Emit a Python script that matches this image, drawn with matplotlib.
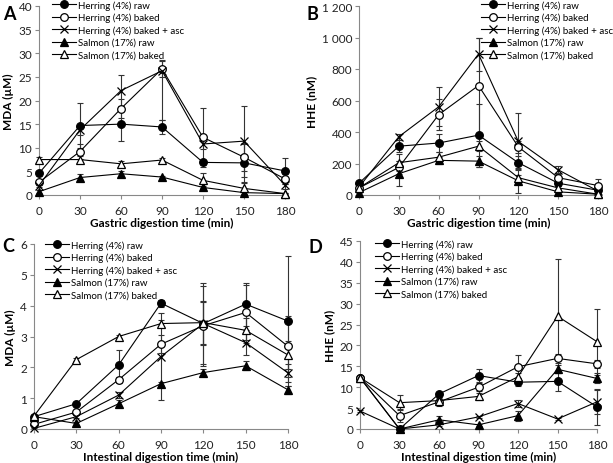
import matplotlib
matplotlib.use("Agg")
import matplotlib.pyplot as plt
import numpy as np
from matplotlib.ticker import FuncFormatter

plt.rcParams['font.family'] = ['Lato', 'DejaVu Sans']

times = [0, 30, 60, 90, 120, 150, 180]
labels = ["Herring (4%) raw", "Herring (4%) baked", "Herring (4%) baked + asc",
          "Salmon (17%) raw", "Salmon (17%) baked"]

# Panel A: MDA gastric (uM)
a_vals = [
    [4.6, 14.7, 15.0, 14.4, 6.9, 6.8, 5.1],
    [2.7, 9.2, 18.3, 26.7, 12.2, 8.0, 3.4],
    [2.0, 13.8, 22.1, 26.3, 10.8, 11.4, 2.1],
    [0.7, 3.7, 4.5, 3.8, 1.6, 0.5, 0.3],
    [7.5, 7.5, 6.6, 7.4, 3.1, 1.4, 0.3],
]
a_err_low = [
    [0.5, 4.8, 3.5, 1.4, 0.5, 4.0, 2.7],
    [0.5, 1.5, 2.0, 1.8, 6.3, 3.0, 1.0],
    [0.4, 1.0, 3.2, 10.5, 1.0, 7.5, 0.8],
    [0.3, 0.7, 0.5, 0.3, 0.4, 0.2, 0.1],
    [0.5, 0.8, 0.5, 0.5, 1.6, 1.1, 0.2],
]
a_err_up = [
    [0.5, 4.8, 3.5, 1.4, 0.5, 4.0, 2.7],
    [0.5, 1.5, 2.0, 1.8, 6.3, 3.0, 1.0],
    [0.4, 1.0, 3.2, 2.0, 1.0, 7.5, 0.8],
    [0.3, 0.7, 0.5, 0.3, 0.4, 0.2, 0.1],
    [0.5, 0.8, 0.5, 0.5, 1.6, 1.1, 0.2],
]
# Panel B: HHE gastric (nM)
b_vals = [
    [75, 310, 330, 380, 205, 75, 30],
    [45, 175, 510, 695, 305, 110, 60],
    [50, 370, 560, 895, 340, 160, 25],
    [15, 135, 220, 215, 90, 20, 5],
    [45, 205, 240, 310, 110, 45, 5],
]
b_err = [
    [10, 40, 60, 200, 40, 20, 10],
    [10, 40, 100, 300, 40, 30, 40],
    [10, 20, 125, 105, 180, 25, 10],
    [5, 80, 20, 35, 80, 10, 3],
    [10, 55, 30, 30, 20, 10, 3],
]
# Panel C: MDA intestinal (uM)
c_vals = [
    [0.40, 0.82, 2.08, 4.08, 3.42, 4.05, 3.50],
    [0.15, 0.55, 1.60, 2.75, 3.35, 3.78, 2.68],
    [0.02, 0.40, 1.10, 2.35, 3.42, 2.80, 1.82],
    [0.40, 0.18, 0.82, 1.47, 1.83, 2.05, 1.27],
    [0.42, 2.25, 3.00, 3.42, 3.45, 3.20, 2.40],
]
c_err = [
    [0.05, 0.05, 0.47, 0.12, 0.70, 0.70, 2.10],
    [0.05, 0.05, 0.10, 0.30, 1.30, 0.90, 1.00],
    [0.02, 0.05, 0.10, 1.40, 1.30, 0.40, 0.30],
    [0.05, 0.05, 0.12, 0.05, 0.10, 0.15, 0.12],
    [0.05, 0.05, 0.05, 0.12, 0.70, 0.40, 0.45],
]
# Panel D: HHE intestinal (nM)
d_vals = [
    [12.3, 0.0, 8.4, 12.8, 11.2, 11.4, 5.3],
    [12.3, 3.2, 6.5, 10.0, 14.9, 16.9, 15.6],
    [4.3, 0.0, 1.0, 2.9, 6.1, 2.4, 6.5],
    [12.3, 0.0, 2.2, 1.0, 3.2, 14.3, 12.1],
    [12.3, 6.3, 6.8, 7.8, 12.5, 27.0, 20.9],
]
d_err = [
    [0.5, 0.3, 0.5, 1.5, 1.0, 2.4, 4.3],
    [0.5, 1.5, 1.0, 1.0, 2.7, 1.0, 1.0],
    [0.3, 0.2, 0.3, 0.3, 0.8, 0.3, 2.8],
    [0.5, 0.2, 0.8, 0.3, 1.2, 1.0, 1.2],
    [0.5, 1.8, 0.8, 0.8, 1.0, 13.7, 7.9],
]

markers = [dict(marker='o', mfc='black'),
           dict(marker='o', mfc='white'),
           dict(marker='x', mfc='black'),
           dict(marker='^', mfc='black'),
           dict(marker='^', mfc='white')]

fig = plt.figure(figsize=(6.13, 4.64), dpi=100)
W, H = 613, 464

def make_ax(x0, x1, ytop, ybot):
    return fig.add_axes([x0 / W, 1 - ybot / H, (x1 - x0) / W, (ybot - ytop) / H])

panels = [
    ("A", make_ax(39, 285, 7, 196), a_vals, (a_err_low, a_err_up), (0, 40), np.arange(0, 41, 5),
     "MDA (\u00b5M)", "Gastric digestion time (min)", (52, 1), (3, 20)),
    ("B", make_ax(359, 598, 7, 196), b_vals, (b_err, b_err), (0, 1200), np.arange(0, 1201, 200),
     "HHE (nM)", "Gastric digestion time (min)", (481, 1), (307, 20)),
    ("C", make_ax(34, 288, 245, 430), c_vals, (c_err, c_err), (0, 6), np.arange(0, 7, 1),
     "MDA (\u00b5M)", "Intestinal digestion time (min)", (45, 241), (2, 252)),
    ("D", make_ax(360, 597, 242, 430), d_vals, (d_err, d_err), (0, 45), np.arange(0, 46, 5),
     "HHE (nM)", "Intestinal digestion time (min)", (375, 240), (308, 253)),
]

def fmt_space(v, pos):
    s = f"{int(v):,}".replace(",", " ")
    return s

for letter, ax, vals, errs, ylim, yticks, ylab, xlab, legpos, letpos in panels:
    handles = []
    lo, up = errs
    for i in range(5):
        ax.errorbar(times, vals[i], yerr=[lo[i], up[i]], fmt='none', ecolor='#333333',
                    elinewidth=0.8, capsize=2.5, capthick=0.8, zorder=1)
        ms = 5.5 if markers[i]['marker'] != 'x' else 6
        h, = ax.plot(times, vals[i], color='black', lw=0.8, marker=markers[i]['marker'],
                     mfc=markers[i]['mfc'], mec='black', ms=ms, mew=0.9, zorder=3,
                     label=labels[i])
        handles.append(h)
    ax.set_xlim(0, 180)
    ax.set_ylim(*ylim)
    ax.set_xticks(times)
    ax.set_yticks(yticks)
    if letter == "B":
        ax.yaxis.set_major_formatter(FuncFormatter(fmt_space))
    for s in ['top', 'right']:
        ax.spines[s].set_visible(False)
    for s in ['left', 'bottom']:
        ax.spines[s].set_color('#888888')
        ax.spines[s].set_linewidth(0.8)
    ax.tick_params(axis='both', direction='out', length=3, width=0.8, color='#888888',
                   labelsize=8.5, pad=2, labelcolor='#222222')
    ax.tick_params(axis='x', pad=4)
    for art in ax.get_children():
        try:
            art.set_clip_on(False)
        except Exception:
            pass
    ax.set_ylabel(ylab, fontsize=8.5, fontweight='bold', labelpad=3)
    ax.set_xlabel(xlab, fontsize=8.5, fontweight='bold', labelpad=1)
    leg = fig.legend(handles=handles, loc='upper left',
                     bbox_to_anchor=(legpos[0] / W, 1 - legpos[1] / H),
                     frameon=False, fontsize=7, labelspacing=0.32, handlelength=2.5,
                     handletextpad=0.2, borderaxespad=0, borderpad=0)
    fig.text(letpos[0] / W, 1 - letpos[1] / H, letter, fontsize=13, fontweight='bold',
             ha='left', va='baseline')

fig.savefig("out.png", dpi=100)
